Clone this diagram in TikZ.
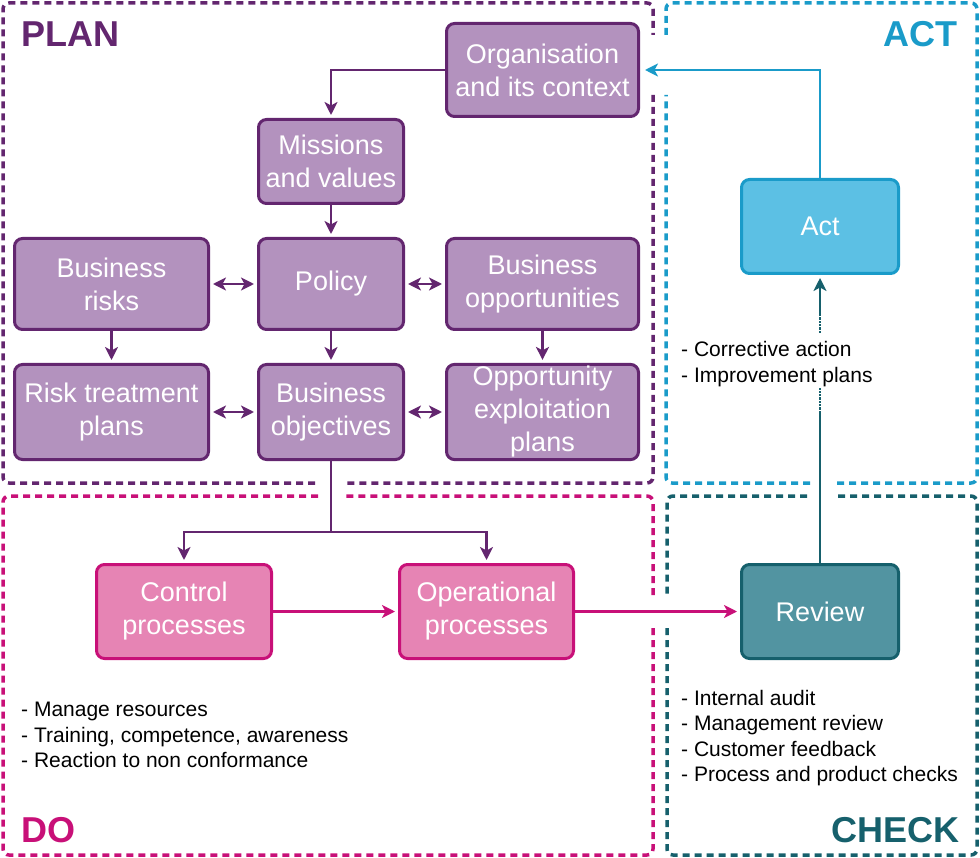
\documentclass[tikz,border=0pt]{standalone}
\usepackage{fontspec}
\setmainfont{Liberation Sans}
\usetikzlibrary{arrows.meta}

\definecolor{plandk}{RGB}{99,38,111}
\definecolor{planlt}{RGB}{179,146,190}
\definecolor{dodk}{RGB}{200,16,120}
\definecolor{dolt}{RGB}{230,132,180}
\definecolor{actdk}{RGB}{26,155,201}
\definecolor{actlt}{RGB}{92,192,228}
\definecolor{chkdk}{RGB}{22,96,108}
\definecolor{chklt}{RGB}{82,148,161}

\begin{document}
\begin{tikzpicture}[x = 1pt, y = -1pt,
  zone/.style    = {line width = 3.5pt, dash pattern = on 7pt off 5pt, rounded corners = 6pt},
  box/.style     = {draw, line width = 3pt, rounded corners = 8pt, align = center, text = white,
                    inner sep = 2pt, font = \fontsize{27}{33}\selectfont},
  planbox/.style = {box, draw = plandk, fill = planlt},
  dobox/.style   = {box, draw = dodk, fill = dolt},
  actbox/.style  = {box, draw = actdk, fill = actlt},
  chkbox/.style  = {box, draw = chkdk, fill = chklt},
  ptip/.tip      = {Stealth[length = 13pt, width = 13pt, inset = 3.5pt]},
  arr/.style     = {line width = 2.3pt, -ptip, shorten > = 3pt},
  dbl/.style     = {line width = 2.3pt, ptip-ptip, shorten > = 3pt, shorten < = 3pt},
  link/.style    = {line width = 2.3pt},
  title/.style   = {font = \fontsize{36}{40}\selectfont\bfseries, inner sep = 0pt},
  list/.style    = {font = \fontsize{21}{25.5}\selectfont, align = left, inner sep = 0pt}
]

\useasboundingbox (0, 0) rectangle (980, 858);

% zones
\draw[zone, plandk] (315, 483) -- (3, 483) -- (3, 3) -- (653, 3) -- (653, 35);
\draw[zone, plandk] (653, 95) -- (653, 483) -- (347, 483);

\draw[zone, actdk] (666, 35) -- (666, 3) -- (977, 3) -- (977, 483) -- (833, 483);
\draw[zone, actdk] (810, 483) -- (666, 483) -- (666, 95);

\draw[zone, dodk] (318, 496) -- (3, 496) -- (3, 855) -- (653, 855) -- (653, 628);
\draw[zone, dodk] (653, 595) -- (653, 496) -- (343, 496);

\draw[zone, chkdk] (807, 496) -- (667, 496) -- (667, 595);
\draw[zone, chkdk] (667, 628) -- (667, 855) -- (977, 855) -- (977, 496) -- (838, 496);

\node[title, text = plandk, anchor = base west] (plant) at (21, 47)  {PLAN};
\node[title, text = actdk,  anchor = base east] (actt)  at (958, 47) {ACT};
\node[title, text = dodk,   anchor = base west] (dot)   at (21, 842) {DO};
\node[title, text = chkdk,  anchor = base east] (chkt)  at (960, 842) {CHECK};

% boxes
\node[planbox, minimum width = 192pt, minimum height = 93pt] (org)  at (542.5, 70)  {Organisation\\and its context};
\node[planbox, minimum width = 145pt, minimum height = 84pt] (mis)  at (331, 161.5) {Missions\\and values};
\node[planbox, minimum width = 145pt, minimum height = 91pt] (pol)  at (331, 284)   {Policy};
\node[planbox, minimum width = 194pt, minimum height = 91pt] (risk) at (111.5, 284) {Business\\risks};
\node[planbox, minimum width = 192pt, minimum height = 91pt] (opp)  at (542.5, 284) {Business\\opportunities};
\node[planbox, minimum width = 194pt, minimum height = 95pt] (rtp)  at (111.5, 412) {Risk treatment\\plans};
\node[planbox, minimum width = 145pt, minimum height = 95pt] (obj)  at (331, 412)   {Business\\objectives};
\node[planbox, minimum width = 192pt, minimum height = 95pt] (oep)  at (542.5, 412) {Opportunity\\exploitation\\plans};

\node[dobox,  minimum width = 175pt, minimum height = 94pt] (ctl) at (184, 611.5)   {Control\\processes};
\node[dobox,  minimum width = 174pt, minimum height = 94pt] (opr) at (486.5, 611.5) {Operational\\processes};
\node[chkbox, minimum width = 157pt, minimum height = 94pt] (rev) at (820, 611.5)   {Review};
\node[actbox, minimum width = 157pt, minimum height = 94pt] (act) at (820, 226.5)   {Act};

% lists
\node[list, anchor = west] (dolist)  at (21, 735)  {- Manage resources\\- Training, competence, awareness\\- Reaction to non conformance};
\node[list, anchor = west] (actlist) at (681, 364) {- Corrective action\\- Improvement plans};
\node[list, anchor = west] (chklist) at (681, 738) {- Internal audit\\- Management review\\- Customer feedback\\- Process and product checks};

% plan arrows
\draw[arr, plandk] (org.west) -| (mis.north);
\draw[arr, plandk] (mis) -- (pol);
\draw[dbl, plandk] (risk) -- (pol);
\draw[dbl, plandk] (pol) -- (opp);
\draw[arr, plandk] (risk) -- (rtp);
\draw[arr, plandk] (pol) -- (obj);
\draw[arr, plandk] (opp) -- (oep);
\draw[dbl, plandk] (rtp) -- (obj);
\draw[dbl, plandk] (obj) -- (oep);

\coordinate (split) at (331, 532);
\draw[link, plandk] (obj.south) -- (split);
\draw[arr, plandk] (split) -| (ctl.north);
\draw[arr, plandk] (split) -| (opr.north);

% do and check arrows
\draw[arr, dodk] (ctl) -- (opr);
\draw[arr, dodk] (opr) -- (rev);

\coordinate (rv1) at (820, 413);
\coordinate (rv2) at (820, 387);
\coordinate (rv3) at (820, 333);
\coordinate (rv4) at (820, 313);
\draw[link, chkdk] (rev.north) -- (rv1);
\draw[link, chkdk, densely dotted] (rv1) -- (rv2);
\draw[link, chkdk, densely dotted] (rv3) -- (rv4);
\draw[arr, chkdk] (rv4) -- (act.south);

\draw[arr, actdk, shorten > = 5pt] (act.north) |- (org.east);

\end{tikzpicture}
\end{document}
